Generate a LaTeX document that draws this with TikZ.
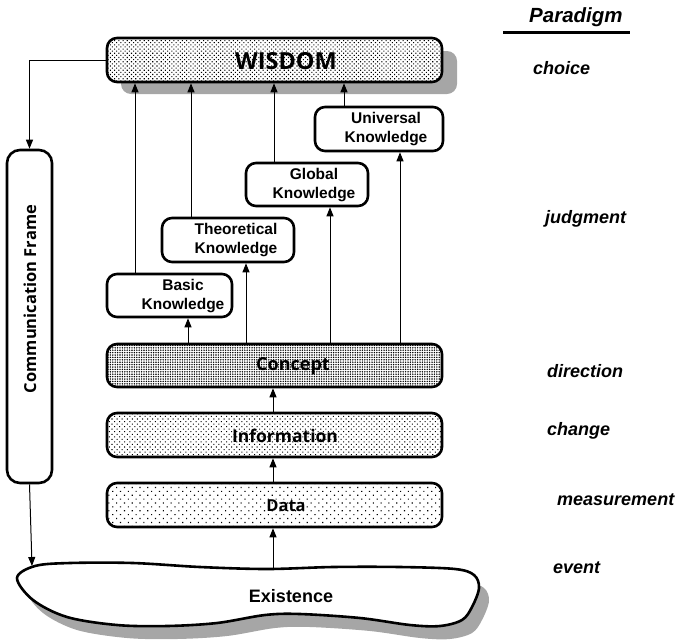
\documentclass[tikz,border=0pt]{standalone}
\usepackage{fontspec}
\setmainfont{Liberation Sans}
\newfontfamily\boxfont{Open Sans}
\usetikzlibrary{arrows.meta,patterns.meta}

\begin{document}
\begin{tikzpicture}[x=1pt,y=-1pt,
  box/.style={draw, line width=2.6pt, rounded corners=10pt, inner sep=0pt},
  layer/.style={box, minimum width=335pt, minimum height=44pt, preaction={fill=white}},
  know/.style={box, fill=white, minimum height=44pt},
  ktext/.style={font=\bfseries\fontsize{15.5}{19}\selectfont, align=center, inner sep=0pt},
  ltext/.style={font=\boxfont\bfseries\fontsize{17}{20}\selectfont, inner sep=0pt},
  para/.style={font=\bfseries\itshape\fontsize{18}{20}\selectfont, anchor=base west, inner sep=0pt},
  arr/.style={-{Triangle[length=9pt,width=7pt]}, line width=1pt},
  shade/.style={fill=black!35, draw=none},
]
\useasboundingbox (0,0) rectangle (679,643);

% ---------- shadows ----------
\fill[shade, rounded corners=10pt] (121,51) rectangle (457,94);
\begin{scope}[shift={(10,13)}]
  \fill[shade] plot[smooth cycle, tension=0.55] coordinates {
    (17,578) (35,566) (70,563) (133,563) (200,567) (267,569) (333,567)
    (400,567) (455,569) (474,575) (479,588) (472,607) (462,620) (440,626)
    (410,625) (360,618) (300,614) (265,615) (217,623) (167,626) (117,625)
    (67,617) (33,600)};
\end{scope}

% ---------- existence ----------
\draw[line width=2.6pt, fill=white] plot[smooth cycle, tension=0.55] coordinates {
    (17,578) (35,566) (70,563) (133,563) (200,567) (267,569) (333,567)
    (400,567) (455,569) (474,575) (479,588) (472,607) (462,620) (440,626)
    (410,625) (360,618) (300,614) (265,615) (217,623) (167,626) (117,625)
    (67,617) (33,600)};
\node[font=\bfseries\fontsize{18}{20}\selectfont, inner sep=0pt] (exist) at (291,596) {Existence};
\coordinate (exist-top) at (273,568);
\coordinate (exist-left) at (32,566);

% ---------- layers ----------
\node[layer, pattern={Dots[distance=3pt, radius=0.75pt, angle=45]}] (wisdom) at (274.5,60) {};
\node[ltext, font=\boxfont\bfseries\fontsize{23.5}{26}\selectfont] (wisdom-t) at (286,61) {WISDOM};

\node[layer, minimum height=43pt, pattern={Dots[distance=2.4pt, radius=0.8pt]}] (concept) at (274.5,365.5) {};
\node[ltext, font=\boxfont\bfseries\fontsize{18}{20}\selectfont] (concept-t) at (293,366) {Concept};

\node[layer, pattern={Dots[distance=3.6pt, radius=0.72pt, angle=45]}] (info) at (274.5,435) {};
\node[ltext, font=\boxfont\bfseries\fontsize{17.5}{20}\selectfont] (info-t) at (285,436) {Information};

\node[layer, pattern={Dots[distance=5.5pt, radius=0.8pt, angle=45]}] (data) at (274.5,505) {};
\node[ltext, font=\boxfont\bfseries\fontsize{16.5}{20}\selectfont] (data-t) at (286,506) {Data};

% ---------- knowledge boxes ----------
\node[know, minimum width=125pt, minimum height=43pt] (basic) at (169.5,295.5) {};
\node[ktext] (basic-t) at (183,296) {Basic\\Knowledge};
\node[know, minimum width=132pt] (theo) at (228,240) {};
\node[ktext] (theo-t) at (236,240) {Theoretical\\Knowledge};
\node[know, minimum width=122pt, minimum height=43pt] (global) at (307,184.5) {};
\node[ktext] (global-t) at (314,185) {Global\\Knowledge};
\node[know, minimum width=128pt] (univ) at (379,129) {};
\node[ktext] (univ-t) at (386,129) {Universal\\Knowledge};

% ---------- communication frame ----------
\node[box, fill=white, rounded corners=13pt, minimum width=45pt, minimum height=333pt] (comm) at (29.5,316.5) {};
\node[font=\boxfont\bfseries\fontsize{16.5}{18}\selectfont, rotate=90, inner sep=0pt] (comm-t) at (30,299) {Communication Frame};

% ---------- connectors ----------
\draw[arr] (wisdom.west) -| (comm.north);
\draw[arr] (comm.south) -- (exist-left);
\draw[arr] (exist-top) -- (data.south -| exist-top);
\draw[arr] (data.north -| exist-top) -- (info.south -| exist-top);
\draw[arr] (info.north -| exist-top) -- (concept.south -| exist-top);

\draw[arr] (concept.north -| 188,0) -- (basic.south -| 188,0);
\draw[arr] (concept.north -| 246,0) -- (theo.south -| 246,0);
\draw[arr] (concept.north -| 330,0) -- (global.south -| 330,0);
\draw[arr] (concept.north -| 400,0) -- (univ.south -| 400,0);

\draw[arr] (basic.north -| 135,0) -- (wisdom.south -| 135,0);
\draw[arr] (theo.north -| 191,0) -- (wisdom.south -| 191,0);
\draw[arr] (global.north -| 274,0) -- (wisdom.south -| 274,0);
\draw[arr] (univ.north -| 344,0) -- (wisdom.south -| 344,0);

% ---------- paradigm column ----------
\node[para, font=\bfseries\itshape\fontsize{20.5}{22}\selectfont] (para) at (529,22) {Paradigm};
\draw[line width=3pt] (503,32) -- (630,32);
\node[para] (p-choice) at (533,74) {choice};
\node[para] (p-judg) at (545,223) {judgment};
\node[para] (p-dir) at (547,377) {direction};
\node[para] (p-chg) at (547,435) {change};
\node[para] (p-meas) at (557,505) {measurement};
\node[para] (p-event) at (553,573) {event};
\end{tikzpicture}
\end{document}
